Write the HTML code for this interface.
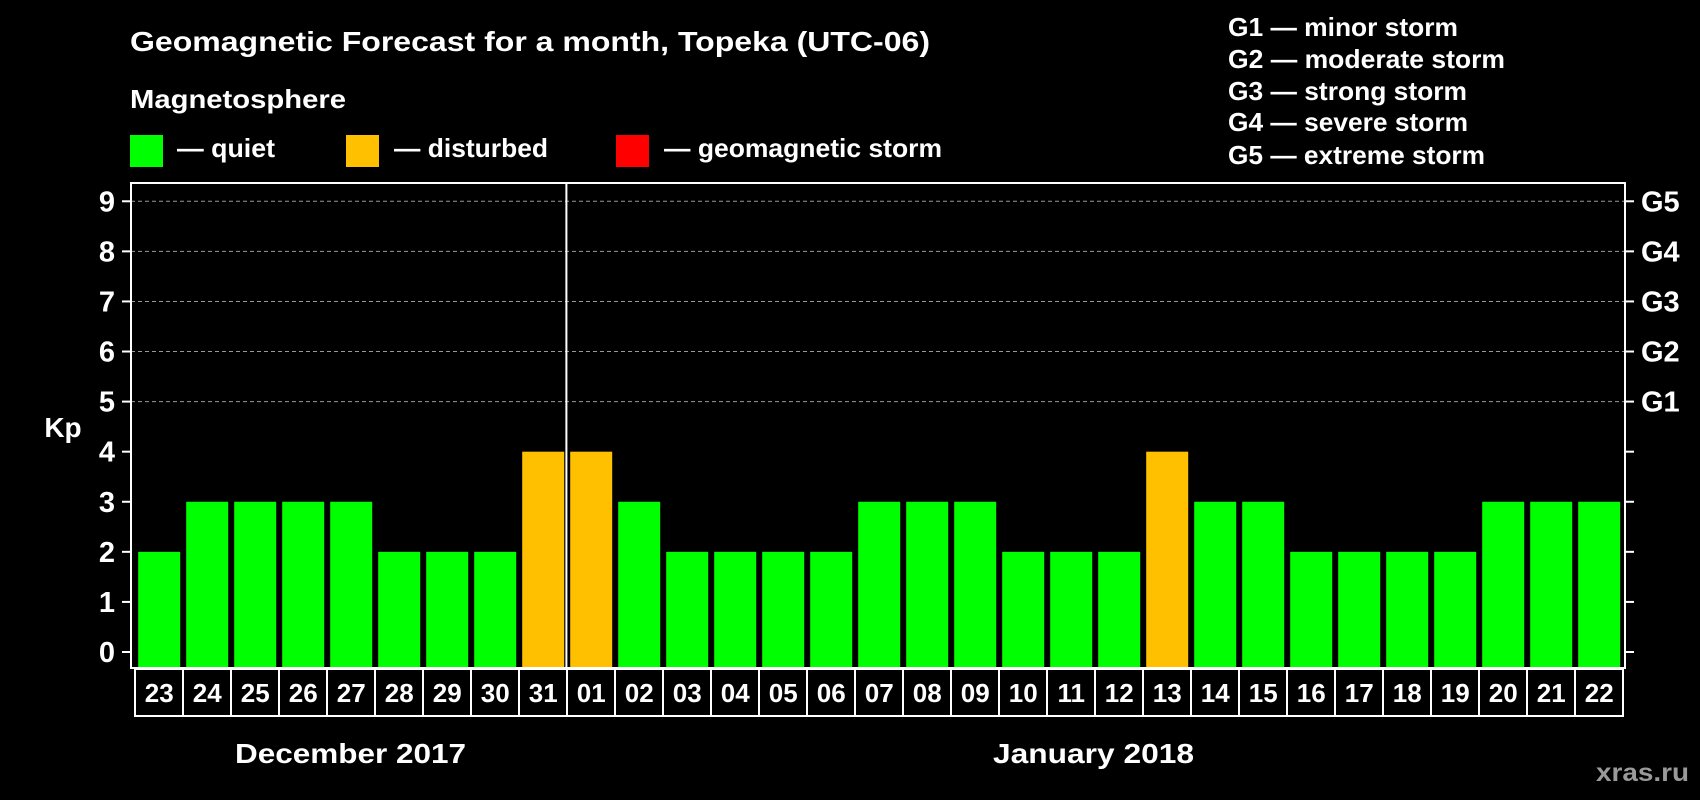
<!DOCTYPE html>
<html><head><meta charset="utf-8"><style>
html,body{margin:0;padding:0;background:#000;width:1700px;height:800px;overflow:hidden}
svg text{font-family:"Liberation Sans",Arial,sans-serif;font-weight:bold;fill:#fff}
</style></head><body>
<svg id="chart" width="1700" height="800" xmlns="http://www.w3.org/2000/svg">
<text x="130" y="51" font-size="28" textLength="800" lengthAdjust="spacingAndGlyphs">Geomagnetic Forecast for a month, Topeka (UTC-06)</text>
<text x="130" y="108" font-size="26" textLength="216" lengthAdjust="spacingAndGlyphs">Magnetosphere</text>
<rect x="130" y="135" width="33" height="32" fill="#00ff00"/>
<text x="177" y="157" font-size="26" textLength="98" lengthAdjust="spacingAndGlyphs">— quiet</text>
<rect x="346" y="135" width="33" height="32" fill="#ffc000"/>
<text x="394" y="157" font-size="26" textLength="154" lengthAdjust="spacingAndGlyphs">— disturbed</text>
<rect x="616" y="135" width="33" height="32" fill="#ff0000"/>
<text x="664" y="157" font-size="26" textLength="278" lengthAdjust="spacingAndGlyphs">— geomagnetic storm</text>
<g font-size="26">
<text x="1228" y="36" textLength="230" lengthAdjust="spacingAndGlyphs">G1 — minor storm</text>
<text x="1228" y="68" textLength="277" lengthAdjust="spacingAndGlyphs">G2 — moderate storm</text>
<text x="1228" y="100" textLength="239" lengthAdjust="spacingAndGlyphs">G3 — strong storm</text>
<text x="1228" y="131" textLength="240" lengthAdjust="spacingAndGlyphs">G4 — severe storm</text>
<text x="1228" y="164" textLength="257" lengthAdjust="spacingAndGlyphs">G5 — extreme storm</text>
</g>
<text x="63" y="437" font-size="28" text-anchor="middle">Kp</text>
<text x="235" y="763" font-size="28" textLength="231" lengthAdjust="spacingAndGlyphs">December 2017</text>
<text x="993" y="763" font-size="28" textLength="201" lengthAdjust="spacingAndGlyphs">January 2018</text>
<text x="1596" y="781" font-size="25" textLength="93" lengthAdjust="spacingAndGlyphs" style="fill:#9a9a9a">xras.ru</text>
<g id="plot"></g>
</svg>
<script>
const days = ["23","24","25","26","27","28","29","30","31","01","02","03","04","05","06","07","08","09","10","11","12","13","14","15","16","17","18","19","20","21","22"];
const kpValues = [2,3,3,3,3,2,2,2,4,4,3,2,2,2,2,3,3,3,2,2,2,4,3,3,2,2,2,2,3,3,3];
const yTicks = [0,1,2,3,4,5,6,7,8,9];
const gLabels = ["G1","G2","G3","G4","G5"];
const gLevels = [5,6,7,8,9];

const NS = "http://www.w3.org/2000/svg";
const plot = document.getElementById('plot');
const L = 131, R = 1625, T = 183, B = 668;
const x0 = 138.2, pitch = 48, bw = 42;
function y(v){ return 652 - v * 50.08; }
function x(i){ return x0 + i * pitch; }
function mk(tag, attrs){ const e = document.createElementNS(NS, tag); for (const k in attrs) e.setAttribute(k, attrs[k]); plot.appendChild(e); return e; }

gLevels.forEach(v => {
  const g = mk('line', {x1:L, x2:R, y1:y(v), y2:y(v), stroke:'#999', 'stroke-width':1, 'stroke-dasharray':'4,3'});
  
  
});
kpValues.forEach((v, i) => {
  const c = v >= 5 ? '#ff0000' : (v >= 4 ? '#ffc000' : '#00ff00');
  const r = mk('rect', {x:x(i), y:y(v), width:bw, height:(B - 1) - y(v), fill:c});
  
  
});
const fr = mk('rect', {x:L, y:T, width:R-L, height:B-T, fill:'none', stroke:'#fff', 'stroke-width':2});


const dv = mk('line', {x1:566.4, x2:566.4, y1:T, y2:B, stroke:'#fff', 'stroke-width':2});


yTicks.forEach(v => {
  const t1 = mk('line', {x1:122, x2:L, y1:y(v), y2:y(v), stroke:'#fff', 'stroke-width':2});
  
  
  const t2 = mk('line', {x1:R, x2:1634, y1:y(v), y2:y(v), stroke:'#fff', 'stroke-width':2});
  
  
  const tl = mk('text', {x:115, y:y(v) + 10, 'font-size':29, 'text-anchor':'end'});
  tl.textContent = v;
  
  
});
gLabels.forEach((g, i) => {
  const t = mk('text', {x:1641, y:y(gLevels[i]) + 10, 'font-size':29});
  t.textContent = g;
  
  
});
const bx = mk('rect', {x:135, y:669, width:1623-135, height:47, fill:'none', stroke:'#fff', 'stroke-width':2});


days.forEach((d, i) => {
  if (i > 0) {
    const s = mk('line', {x1:135 + i*pitch, x2:135 + i*pitch, y1:669, y2:716, stroke:'#fff', 'stroke-width':2});
    
    
  }
  const t = mk('text', {x:x(i) + bw/2, y:702, 'font-size':26, 'text-anchor':'middle'});
  t.textContent = d;
  
  
});
</script>
</body></html>
